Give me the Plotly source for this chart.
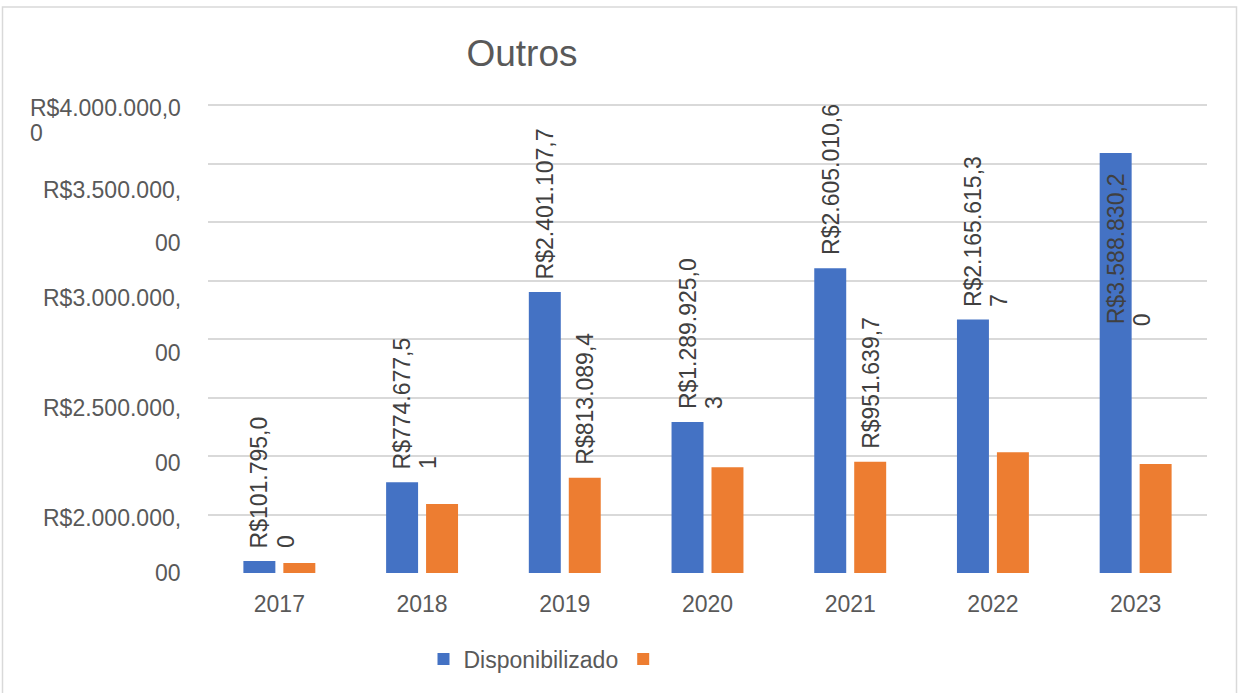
import plotly.graph_objects as go

# ---------------- data ----------------
years = ["2017", "2018", "2019", "2020", "2021", "2022", "2023"]
disponibilizado = [101795.00, 774677.51, 2401107.70, 1289925.03, 2605010.60, 2165615.37, 3588830.20]
outro = [85500.00, 590000.00, 813089.40, 903000.00, 951639.70, 1032000.00, 932000.00]

# data labels as rendered (wrapped in two lines, some parts hidden)
blue_label_l1 = ["R$101.795,0", "R$774.677,5", "R$2.401.107,7", "R$1.289.925,0",
                 "R$2.605.010,6", "R$2.165.615,3", "R$3.588.830,2"]
blue_label_l2 = ["0", "1", "", "3", "", "7", "0"]
orange_label_l1 = ["", "", "R$813.089,4", "", "R$951.639,7", "", ""]

# y-axis tick labels as rendered (wrapped text)
ytick_lines = ["R$4.000.000,0", "0",
               "R$3.500.000,", "00",
               "R$3.000.000,", "00",
               "R$2.500.000,", "00",
               "R$2.000.000,", "00"]

title_text = "Outros"
series_names = ["Disponibilizado", ""]
y_max, y_step = 4000000, 500000

# ---------------- layout constants ----------------
W, H = 1240, 693
PL, PR, PT, PB = 208, 1207, 101, 573  # plot area in px
GRID_TOP_PX = 105                     # pixel row of the y_max gridline
FONT = "Liberation Sans, Arial, sans-serif"
TXT = "#595959"
LBL = "#404040"
BLUE = "#4472C4"
ORANGE = "#ED7D31"
GRID = "#D9D9D9"
FS = 23

def px_x(p):
    return (p - PL) / (PR - PL)

def px_y(p):
    return (PB - p) / (PB - PT)

bargap = 0.44
slot = (1 - bargap) / 2

fig = go.Figure()
fig.add_trace(go.Bar(x=years, y=disponibilizado, name=series_names[0],
                     marker=dict(color=BLUE, line=dict(width=0))))
fig.add_trace(go.Bar(x=years, y=outro, name=series_names[1],
                     marker=dict(color=ORANGE, line=dict(width=0))))

annotations = []
lab_font = dict(family=FONT, size=FS, color=LBL)
line_step = 26

for i, v in enumerate(disponibilizado):
    xc = i - slot / 2
    inside = (i == len(years) - 1)
    if inside:
        annotations.append(dict(x=xc, y=v, xref="x", yref="y", text=blue_label_l1[i],
                                textangle=-90, showarrow=False, xanchor="center",
                                yanchor="top", yshift=-19, borderpad=0, font=lab_font))
        if blue_label_l2[i]:
            annotations.append(dict(x=xc, y=v, xref="x", yref="y", text=blue_label_l2[i],
                                    textangle=-90, showarrow=False, xanchor="center",
                                    yanchor="top", yshift=-159, xshift=line_step,
                                    borderpad=0, font=lab_font))
    else:
        annotations.append(dict(x=xc, y=v, xref="x", yref="y", text=blue_label_l1[i],
                                textangle=-90, showarrow=False, xanchor="center",
                                yanchor="bottom", yshift=12, borderpad=0, font=lab_font))
        if blue_label_l2[i]:
            annotations.append(dict(x=xc, y=v, xref="x", yref="y", text=blue_label_l2[i],
                                    textangle=-90, showarrow=False, xanchor="center",
                                    yanchor="bottom", yshift=12, xshift=line_step,
                                    borderpad=0, font=lab_font))

for i, v in enumerate(outro):
    if orange_label_l1[i]:
        xc = i + slot / 2
        annotations.append(dict(x=xc, y=v, xref="x", yref="y", text=orange_label_l1[i],
                                textangle=-90, showarrow=False, xanchor="center",
                                yanchor="bottom", yshift=12, borderpad=0, font=lab_font))

# y-axis tick label lines (positions in px)
ytick_pos = [(29, 108, "left"), (29, 133, "left"),
             (182, 190, "right"), (182, 243, "right"),
             (182, 298, "right"), (182, 353, "right"),
             (182, 408, "right"), (182, 463, "right"),
             (182, 518, "right"), (182, 573, "right")]
for t, (xp, yp, anc) in zip(ytick_lines, ytick_pos):
    annotations.append(dict(x=px_x(xp), y=px_y(yp), xref="paper", yref="paper", text=t,
                            showarrow=False, xanchor=anc, yanchor="middle", borderpad=0,
                            font=dict(family=FONT, size=FS, color=TXT)))

# top of range slightly above the last gridline so that it is drawn
y_top = y_max * (PB - PT) / (PB - GRID_TOP_PX)

fig.update_layout(
    width=W, height=H,
    margin=dict(l=PL, r=W - PR, t=PT, b=H - PB, pad=0),
    paper_bgcolor="white", plot_bgcolor="white",
    barmode="group", bargap=bargap, bargroupgap=0.2,
    font=dict(family=FONT, size=FS, color=TXT),
    title=dict(text=title_text, x=522 / W, y=1 - 53 / H, xanchor="center", yanchor="middle",
               font=dict(family=FONT, size=37, color=TXT)),
    showlegend=True,
    legend=dict(orientation="h", x=px_x(546), xanchor="center", y=px_y(659), yanchor="middle",
                font=dict(family=FONT, size=FS, color=TXT), bgcolor="rgba(0,0,0,0)",
                itemwidth=30, traceorder="normal"),
    annotations=annotations,
    shapes=[dict(type="rect", xref="paper", yref="paper",
                 x0=px_x(2.5), x1=px_x(1236.5), y0=px_y(705), y1=px_y(7),
                 line=dict(color=GRID, width=1.5), fillcolor="rgba(0,0,0,0)", layer="below")],
)

fig.update_xaxes(showgrid=False, showline=False, ticks="", zeroline=False,
                 tickfont=dict(family=FONT, size=FS, color=TXT), ticklabelstandoff=15)
fig.update_yaxes(range=[0, y_top], tick0=0, dtick=y_step, showgrid=True, gridcolor=GRID,
                 gridwidth=1.5, showticklabels=False, zeroline=False, showline=False, ticks="")

fig.write_html("out.html", config={"displayModeBar": False},
               post_script="document.body.style.margin='0px';document.body.style.overflow='hidden';")
